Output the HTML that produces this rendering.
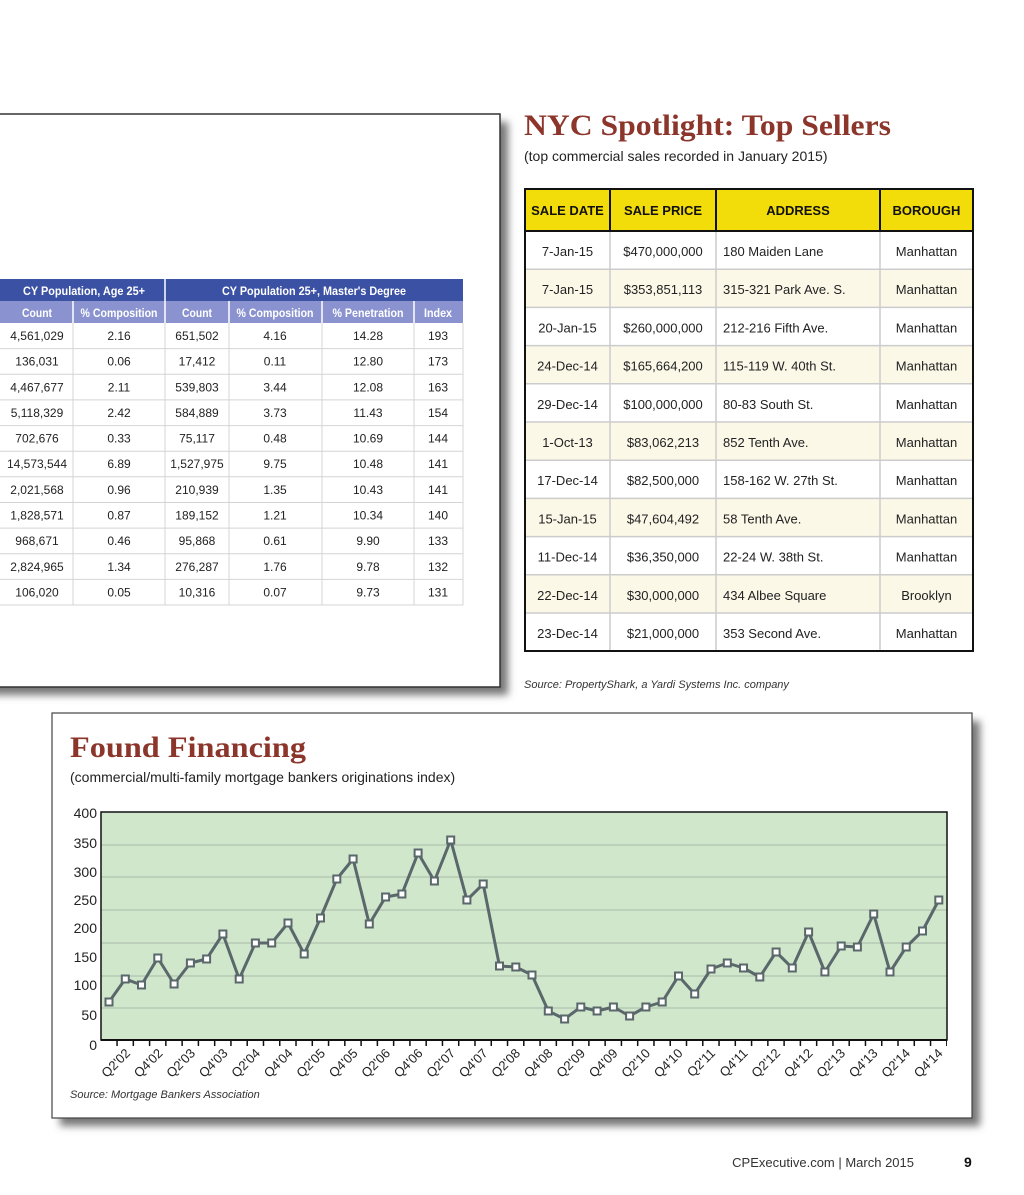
<!DOCTYPE html>
<html><head><meta charset="utf-8"><style>
html,body{margin:0;padding:0;background:#fff;}
svg{display:block;}
.t{font-family:"Liberation Sans",Arial,sans-serif;}
</style></head><body>
<svg width="1024" height="1195" viewBox="0 0 1024 1195" class="t">
<defs>
<filter id="sh" x="-10%" y="-10%" width="130%" height="130%"><feGaussianBlur stdDeviation="4"/></filter>
<marker id="sq" markerWidth="10" markerHeight="10" refX="5" refY="5" markerUnits="userSpaceOnUse"><rect x="1.5" y="1.5" width="7" height="7" fill="#fff" stroke="#5a676b" stroke-width="2"/></marker>
</defs>
<rect width="1024" height="1195" fill="#fff"/>

<!-- left panel -->
<rect x="-10" y="122" width="518" height="573" fill="#777" filter="url(#sh)"/>
<rect x="-2" y="114" width="502" height="573" fill="#fff" stroke="#333" stroke-width="1.5"/>
<rect x="0" y="279" width="463" height="22" fill="#3b51a3"/>
<rect x="0" y="301" width="463" height="22" fill="#8a93d0"/>
<g stroke="#fff" stroke-width="1.5"><line x1="165" y1="279" x2="165" y2="323"/><line x1="73" y1="301" x2="73" y2="323"/><line x1="229" y1="301" x2="229" y2="323"/><line x1="322" y1="301" x2="322" y2="323"/><line x1="414" y1="301" x2="414" y2="323"/></g>
<g font-size="12" font-weight="bold" fill="#fff" text-anchor="middle" lengthAdjust="spacingAndGlyphs">
<text x="84" y="295" textLength="122" lengthAdjust="spacingAndGlyphs">CY Population, Age 25+</text><text x="314" y="295" textLength="184" lengthAdjust="spacingAndGlyphs">CY Population 25+, Master's Degree</text>
<text x="37" y="317" textLength="30" lengthAdjust="spacingAndGlyphs">Count</text><text x="119" y="317" textLength="77" lengthAdjust="spacingAndGlyphs">% Composition</text><text x="197" y="317" textLength="30" lengthAdjust="spacingAndGlyphs">Count</text><text x="275" y="317" textLength="77" lengthAdjust="spacingAndGlyphs">% Composition</text><text x="368" y="317" textLength="71" lengthAdjust="spacingAndGlyphs">% Penetration</text><text x="438" y="317" textLength="28" lengthAdjust="spacingAndGlyphs">Index</text>
</g>
<g stroke="#d4d4d4" stroke-width="1">
<line x1="0" y1="348.6" x2="463" y2="348.6"/><line x1="0" y1="374.3" x2="463" y2="374.3"/><line x1="0" y1="399.9" x2="463" y2="399.9"/><line x1="0" y1="425.6" x2="463" y2="425.6"/><line x1="0" y1="451.2" x2="463" y2="451.2"/><line x1="0" y1="476.8" x2="463" y2="476.8"/><line x1="0" y1="502.5" x2="463" y2="502.5"/><line x1="0" y1="528.1" x2="463" y2="528.1"/><line x1="0" y1="553.8" x2="463" y2="553.8"/><line x1="0" y1="579.4" x2="463" y2="579.4"/><line x1="0" y1="605" x2="463" y2="605"/>
<line x1="73" y1="323" x2="73" y2="605"/><line x1="165" y1="323" x2="165" y2="605"/><line x1="229" y1="323" x2="229" y2="605"/><line x1="322" y1="323" x2="322" y2="605"/><line x1="414" y1="323" x2="414" y2="605"/><line x1="463" y1="323" x2="463" y2="605"/>
</g>
<g font-size="12" fill="#222" text-anchor="middle">
<g transform="translate(0,340)"><text x="37">4,561,029</text><text x="119">2.16</text><text x="197">651,502</text><text x="275">4.16</text><text x="368">14.28</text><text x="438">193</text></g>
<g transform="translate(0,365.6)"><text x="37">136,031</text><text x="119">0.06</text><text x="197">17,412</text><text x="275">0.11</text><text x="368">12.80</text><text x="438">173</text></g>
<g transform="translate(0,391.3)"><text x="37">4,467,677</text><text x="119">2.11</text><text x="197">539,803</text><text x="275">3.44</text><text x="368">12.08</text><text x="438">163</text></g>
<g transform="translate(0,416.9)"><text x="37">5,118,329</text><text x="119">2.42</text><text x="197">584,889</text><text x="275">3.73</text><text x="368">11.43</text><text x="438">154</text></g>
<g transform="translate(0,442.6)"><text x="37">702,676</text><text x="119">0.33</text><text x="197">75,117</text><text x="275">0.48</text><text x="368">10.69</text><text x="438">144</text></g>
<g transform="translate(0,468.2)"><text x="37">14,573,544</text><text x="119">6.89</text><text x="197">1,527,975</text><text x="275">9.75</text><text x="368">10.48</text><text x="438">141</text></g>
<g transform="translate(0,493.8)"><text x="37">2,021,568</text><text x="119">0.96</text><text x="197">210,939</text><text x="275">1.35</text><text x="368">10.43</text><text x="438">141</text></g>
<g transform="translate(0,519.5)"><text x="37">1,828,571</text><text x="119">0.87</text><text x="197">189,152</text><text x="275">1.21</text><text x="368">10.34</text><text x="438">140</text></g>
<g transform="translate(0,545.1)"><text x="37">968,671</text><text x="119">0.46</text><text x="197">95,868</text><text x="275">0.61</text><text x="368">9.90</text><text x="438">133</text></g>
<g transform="translate(0,570.8)"><text x="37">2,824,965</text><text x="119">1.34</text><text x="197">276,287</text><text x="275">1.76</text><text x="368">9.78</text><text x="438">132</text></g>
<g transform="translate(0,596.4)"><text x="37">106,020</text><text x="119">0.05</text><text x="197">10,316</text><text x="275">0.07</text><text x="368">9.73</text><text x="438">131</text></g>
</g>

<!-- right table -->
<text x="524" y="135" font-family="Liberation Serif,serif" font-weight="bold" font-size="30" fill="#8b352b" textLength="367" lengthAdjust="spacingAndGlyphs">NYC Spotlight: Top Sellers</text>
<text x="524" y="161" font-size="14" fill="#222">(top commercial sales recorded in January 2015)</text>
<rect x="525" y="189" width="448" height="42" fill="#f2dc0a"/>
<g fill="#fbf8e8"><rect x="525" y="269.2" width="448" height="38.2"/><rect x="525" y="345.6" width="448" height="38.2"/><rect x="525" y="422" width="448" height="38.2"/><rect x="525" y="498.4" width="448" height="38.2"/><rect x="525" y="574.8" width="448" height="38.2"/></g>
<g stroke="#ccc" stroke-width="1.5">
<line x1="525" y1="269.2" x2="973" y2="269.2"/><line x1="525" y1="307.4" x2="973" y2="307.4"/><line x1="525" y1="345.6" x2="973" y2="345.6"/><line x1="525" y1="383.8" x2="973" y2="383.8"/><line x1="525" y1="422" x2="973" y2="422"/><line x1="525" y1="460.2" x2="973" y2="460.2"/><line x1="525" y1="498.4" x2="973" y2="498.4"/><line x1="525" y1="536.6" x2="973" y2="536.6"/><line x1="525" y1="574.8" x2="973" y2="574.8"/><line x1="525" y1="613" x2="973" y2="613"/>
<line x1="610" y1="231" x2="610" y2="651"/><line x1="716" y1="231" x2="716" y2="651"/><line x1="880" y1="231" x2="880" y2="651"/>
</g>
<g stroke="#111" stroke-width="2" fill="none"><line x1="610" y1="189" x2="610" y2="231"/><line x1="716" y1="189" x2="716" y2="231"/><line x1="880" y1="189" x2="880" y2="231"/><line x1="525" y1="231" x2="973" y2="231"/><rect x="525" y="189" width="448" height="462"/></g>
<g font-size="13" font-weight="bold" fill="#111" text-anchor="middle"><text x="567.5" y="215">SALE DATE</text><text x="663" y="215">SALE PRICE</text><text x="798" y="215">ADDRESS</text><text x="926.5" y="215">BOROUGH</text></g>
<g font-size="13" fill="#222">
<g transform="translate(0,256)"><text x="567.5" text-anchor="middle">7-Jan-15</text><text x="663" text-anchor="middle">$470,000,000</text><text x="723">180 Maiden Lane</text><text x="926.5" text-anchor="middle">Manhattan</text></g>
<g transform="translate(0,294.2)"><text x="567.5" text-anchor="middle">7-Jan-15</text><text x="663" text-anchor="middle">$353,851,113</text><text x="723">315-321 Park Ave. S.</text><text x="926.5" text-anchor="middle">Manhattan</text></g>
<g transform="translate(0,332.4)"><text x="567.5" text-anchor="middle">20-Jan-15</text><text x="663" text-anchor="middle">$260,000,000</text><text x="723">212-216 Fifth Ave.</text><text x="926.5" text-anchor="middle">Manhattan</text></g>
<g transform="translate(0,370.6)"><text x="567.5" text-anchor="middle">24-Dec-14</text><text x="663" text-anchor="middle">$165,664,200</text><text x="723">115-119 W. 40th St.</text><text x="926.5" text-anchor="middle">Manhattan</text></g>
<g transform="translate(0,408.8)"><text x="567.5" text-anchor="middle">29-Dec-14</text><text x="663" text-anchor="middle">$100,000,000</text><text x="723">80-83 South St.</text><text x="926.5" text-anchor="middle">Manhattan</text></g>
<g transform="translate(0,447)"><text x="567.5" text-anchor="middle">1-Oct-13</text><text x="663" text-anchor="middle">$83,062,213</text><text x="723">852 Tenth Ave.</text><text x="926.5" text-anchor="middle">Manhattan</text></g>
<g transform="translate(0,485.2)"><text x="567.5" text-anchor="middle">17-Dec-14</text><text x="663" text-anchor="middle">$82,500,000</text><text x="723">158-162 W. 27th St.</text><text x="926.5" text-anchor="middle">Manhattan</text></g>
<g transform="translate(0,523.4)"><text x="567.5" text-anchor="middle">15-Jan-15</text><text x="663" text-anchor="middle">$47,604,492</text><text x="723">58 Tenth Ave.</text><text x="926.5" text-anchor="middle">Manhattan</text></g>
<g transform="translate(0,561.6)"><text x="567.5" text-anchor="middle">11-Dec-14</text><text x="663" text-anchor="middle">$36,350,000</text><text x="723">22-24 W. 38th St.</text><text x="926.5" text-anchor="middle">Manhattan</text></g>
<g transform="translate(0,599.8)"><text x="567.5" text-anchor="middle">22-Dec-14</text><text x="663" text-anchor="middle">$30,000,000</text><text x="723">434 Albee Square</text><text x="926.5" text-anchor="middle">Brooklyn</text></g>
<g transform="translate(0,638)"><text x="567.5" text-anchor="middle">23-Dec-14</text><text x="663" text-anchor="middle">$21,000,000</text><text x="723">353 Second Ave.</text><text x="926.5" text-anchor="middle">Manhattan</text></g>
</g>
<text x="524" y="688" font-size="11" font-style="italic" fill="#333">Source: PropertyShark, a Yardi Systems Inc. company</text>

<!-- bottom panel -->
<rect x="60" y="721" width="920" height="405" fill="#777" filter="url(#sh)"/>
<rect x="52" y="713" width="920" height="405" fill="#fff" stroke="#444" stroke-width="1.2"/>
<text x="70" y="757" font-family="Liberation Serif,serif" font-weight="bold" font-size="30" fill="#8b352b" textLength="236" lengthAdjust="spacingAndGlyphs">Found Financing</text>
<text x="70" y="782" font-size="14" fill="#222">(commercial/multi-family mortgage bankers originations index)</text>
<rect x="101" y="812" width="846" height="228" fill="#d1e7cc"/>
<g stroke="#a9bba8" stroke-width="1"><line x1="101" y1="845" x2="947" y2="845"/><line x1="101" y1="877" x2="947" y2="877"/><line x1="101" y1="910" x2="947" y2="910"/><line x1="101" y1="943" x2="947" y2="943"/><line x1="101" y1="976" x2="947" y2="976"/><line x1="101" y1="1008" x2="947" y2="1008"/></g>
<path d="M101 1040 V812 H947 V1040 Z" fill="none" stroke="#111" stroke-width="1.5"/>
<line x1="101" y1="1040" x2="947" y2="1040" stroke="#111" stroke-width="2"/>
<line x1="116.3" y1="1043" x2="947" y2="1043" stroke="#111" stroke-width="6" stroke-dasharray="1.5 14.77"/>
<g font-size="14" fill="#222" text-anchor="end"><text x="97" y="818">400</text><text x="97" y="848">350</text><text x="97" y="877">300</text><text x="97" y="905">250</text><text x="97" y="933">200</text><text x="97" y="962">150</text><text x="97" y="990">100</text><text x="97" y="1020">50</text><text x="97" y="1050">0</text></g>
<polyline fill="none" stroke="#5a676b" stroke-width="3" stroke-linejoin="round" marker-start="url(#sq)" marker-mid="url(#sq)" marker-end="url(#sq)" points="109,1002 125.3,979 141.5,985 157.8,958 174.1,984 190.4,963 206.6,959 222.9,934 239.2,979 255.4,943 271.7,943 288,923 304.2,954 320.5,918 336.8,879 353.1,859 369.3,924 385.6,897 401.9,894 418.1,853 434.4,881 450.7,840 466.9,900 483.2,884 499.5,966 515.8,967 532,975 548.3,1011 564.6,1019 580.8,1007 597.1,1011 613.4,1007 629.6,1016 645.9,1007 662.2,1002 678.5,976 694.7,994 711,969 727.3,963 743.5,968 759.8,977 776.1,952 792.3,968 808.6,932 824.9,972 841.2,946 857.4,947 873.7,914 890,972 906.2,947 922.5,931 938.8,900"/>
<g font-size="13" fill="#222" text-anchor="end">
<text transform="translate(131,1054) rotate(-45)">Q2'02</text>
<text transform="translate(163.5,1054) rotate(-45)">Q4'02</text>
<text transform="translate(196,1054) rotate(-45)">Q2'03</text>
<text transform="translate(228.5,1054) rotate(-45)">Q4'03</text>
<text transform="translate(261,1054) rotate(-45)">Q2'04</text>
<text transform="translate(293.5,1054) rotate(-45)">Q4'04</text>
<text transform="translate(326,1054) rotate(-45)">Q2'05</text>
<text transform="translate(358.5,1054) rotate(-45)">Q4'05</text>
<text transform="translate(391,1054) rotate(-45)">Q2'06</text>
<text transform="translate(423.5,1054) rotate(-45)">Q4'06</text>
<text transform="translate(456,1054) rotate(-45)">Q2'07</text>
<text transform="translate(488.5,1054) rotate(-45)">Q4'07</text>
<text transform="translate(521,1054) rotate(-45)">Q2'08</text>
<text transform="translate(553.5,1054) rotate(-45)">Q4'08</text>
<text transform="translate(586,1054) rotate(-45)">Q2'09</text>
<text transform="translate(618.5,1054) rotate(-45)">Q4'09</text>
<text transform="translate(651,1054) rotate(-45)">Q2'10</text>
<text transform="translate(683.5,1054) rotate(-45)">Q4'10</text>
<text transform="translate(716,1054) rotate(-45)">Q2'11</text>
<text transform="translate(748.5,1054) rotate(-45)">Q4'11</text>
<text transform="translate(781,1054) rotate(-45)">Q2'12</text>
<text transform="translate(813.5,1054) rotate(-45)">Q4'12</text>
<text transform="translate(846,1054) rotate(-45)">Q2'13</text>
<text transform="translate(878.5,1054) rotate(-45)">Q4'13</text>
<text transform="translate(911,1054) rotate(-45)">Q2'14</text>
<text transform="translate(943.5,1054) rotate(-45)">Q4'14</text>
</g>
<text x="70" y="1098" font-size="11" font-style="italic" fill="#333">Source: Mortgage Bankers Association</text>

<!-- footer -->
<text x="914" y="1167" font-size="13" fill="#333" text-anchor="end">CPExecutive.com  |  March 2015</text>
<text x="964" y="1167" font-size="14" font-weight="bold" fill="#111">9</text>
</svg>
</body></html>
